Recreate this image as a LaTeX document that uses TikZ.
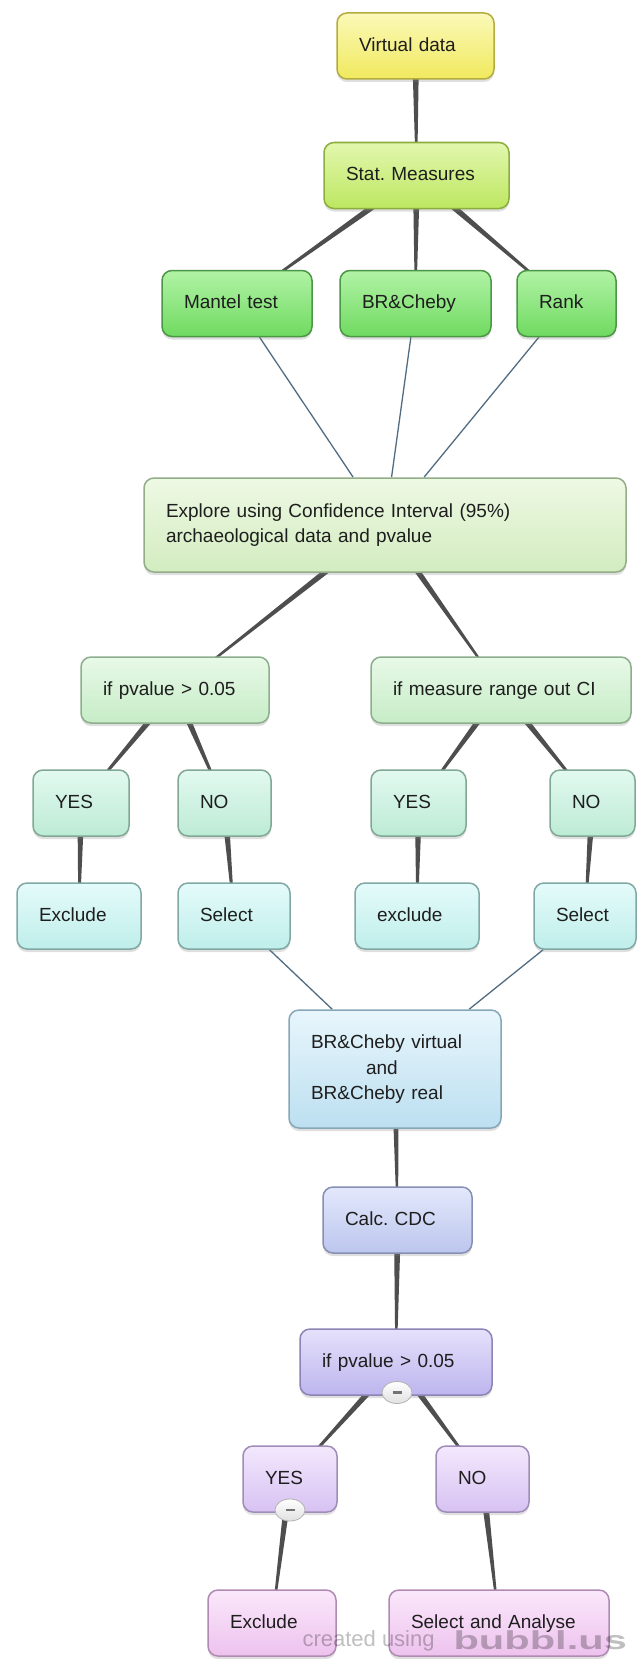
\documentclass[tikz,border=0pt]{standalone}
\usepackage{fontspec}
\setmainfont{Liberation Sans}
\usetikzlibrary{calc,shadows,backgrounds,shapes.geometric}

% bubble colours: gloss top, bottom, outline
\definecolor{yelTop}{HTML}{FBF9B8}
\definecolor{yelBot}{HTML}{F0E95E}
\definecolor{yelLine}{HTML}{B3AC40}
\definecolor{limeTop}{HTML}{E2F7AE}
\definecolor{limeBot}{HTML}{BDE761}
\definecolor{limeLine}{HTML}{8BAE3E}
\definecolor{grnTop}{HTML}{B2F3A6}
\definecolor{grnBot}{HTML}{6FDA60}
\definecolor{grnLine}{HTML}{4C9746}
\definecolor{paleTop}{HTML}{EEF9E4}
\definecolor{paleBot}{HTML}{D3ECC0}
\definecolor{paleLine}{HTML}{93AD89}
\definecolor{testTop}{HTML}{E8F9E8}
\definecolor{testBot}{HTML}{C6ECC6}
\definecolor{testLine}{HTML}{8DAE8D}
\definecolor{mintTop}{HTML}{E2F9EF}
\definecolor{mintBot}{HTML}{BDEBD5}
\definecolor{mintLine}{HTML}{80A894}
\definecolor{cyanTop}{HTML}{E4FBFA}
\definecolor{cyanBot}{HTML}{BFEEEA}
\definecolor{cyanLine}{HTML}{80A8A5}
\definecolor{skyTop}{HTML}{E8F6FC}
\definecolor{skyBot}{HTML}{BCDFF0}
\definecolor{skyLine}{HTML}{86A7B8}
\definecolor{bluTop}{HTML}{E3E8FB}
\definecolor{bluBot}{HTML}{BCC6EE}
\definecolor{bluLine}{HTML}{8690B4}
\definecolor{lavTop}{HTML}{E5E1FB}
\definecolor{lavBot}{HTML}{BDB5EE}
\definecolor{lavLine}{HTML}{8C84B4}
\definecolor{lilTop}{HTML}{F3E8FD}
\definecolor{lilBot}{HTML}{D7C2F2}
\definecolor{lilLine}{HTML}{A08CB8}
\definecolor{pnkTop}{HTML}{FBE8FB}
\definecolor{pnkBot}{HTML}{EDC2EE}
\definecolor{pnkLine}{HTML}{B08AB2}
\definecolor{stemGray}{HTML}{4E4E4E}
\definecolor{linkBlue}{HTML}{526D82}
\definecolor{inkGray}{HTML}{1E1E1E}

% tapered connector: wide at the parent, thin at the child
\newcommand\branch[2]{%
  \fill[stemGray] ($(#1)!3.6pt!90:(#2)$) -- ($(#1)!3.6pt!-90:(#2)$)
    -- ($(#2)!0.6pt!90:(#1)$) -- ($(#2)!0.6pt!-90:(#1)$) -- cycle;}

\tikzset{
  bubble/.style={rectangle, rounded corners=10pt, draw=#1Line, line width=1.5pt,
    top color=#1Top, bottom color=#1Bot, inner xsep=22pt, inner ysep=0pt,
    minimum height=66pt, align=left, text=inkGray,
    font=\fontsize{19}{25.5}\selectfont,
    execute at begin node=\strut, execute at end node=\strut,
    drop shadow={shadow xshift=0pt, shadow yshift=-3pt, opacity=.25}},
  fold/.style={ellipse, draw=black!30, line width=.8pt, top color=white,
    bottom color=black!12, minimum width=30pt, minimum height=22pt, inner sep=0pt},
  link/.style={draw=linkBlue, line width=1.3pt}
}

\begin{document}
\frenchspacing
\begin{tikzpicture}[x=1pt,y=-1pt]
% 637pt x 1659pt page, y runs downwards
\useasboundingbox (0,0) rectangle (637,1659);

% measures
\node[bubble=yel, text width=113pt] (virtual) at (415.5,46) {Virtual data};
\node[bubble=lime, text width=141pt] (stat) at (416.5,175.5) {Stat. Measures};
\node[bubble=grn, text width=106pt] (mantel) at (237,303.5) {Mantel test};
\node[bubble=grn, text width=107pt] (brcheby) at (415.5,303.5) {BR\&Cheby};
\node[bubble=grn, text width=55pt] (rank) at (566.5,303.5) {Rank};
\node[bubble=pale, text width=438pt, minimum height=94pt] (explore) at (385,525)
  {Explore using Confidence Interval (95\%)\\archaeological data and pvalue};

% first round of tests
\node[bubble=test, text width=144pt] (ifp) at (175,690) {if pvalue > 0.05};
\node[bubble=test, text width=216pt] (ifm) at (501,690) {if measure range out CI};
\node[bubble=mint, text width=52pt] (yesP) at (81,803) {YES};
\node[bubble=mint, text width=49pt] (noP) at (224.5,803) {NO};
\node[bubble=mint, text width=51pt] (yesM) at (418.5,803) {YES};
\node[bubble=mint, text width=41pt] (noM) at (592.5,803) {NO};
\node[bubble=cyan, text width=80pt] (exclP) at (79,916) {Exclude};
\node[bubble=cyan, text width=68pt] (selP) at (234,916) {Select};
\node[bubble=cyan, text width=80pt] (exclM) at (417,916) {exclude};
\node[bubble=cyan, text width=58pt] (selM) at (585,916) {Select};

% CDC stage
\node[bubble=sky, text width=168pt, minimum height=118pt] (pair) at (395,1069)
  {BR\&Cheby virtual\\\hspace*{55pt}and\\BR\&Cheby real};
\node[bubble=blu, text width=105pt] (calc) at (397.5,1220) {Calc. CDC};
\node[bubble=lav, text width=148pt] (ifc) at (396,1362) {if pvalue > 0.05};
\node[bubble=lil, text width=50pt] (yesC) at (290,1479) {YES};
\node[bubble=lil, text width=49pt] (noC) at (482.5,1479) {NO};
\node[bubble=pnk, text width=84pt] (exclC) at (272,1623) {Exclude};
\node[bubble=pnk, text width=176pt] (sa) at (499,1623) {Select and Analyse};

% collapse buttons
\node[fold] (foldIfc) at (397,1392.5) {\color{black!55}\rule{9pt}{2.6pt}};
\node[fold] (foldYes) at (290,1510) {\color{black!55}\rule{9pt}{2.6pt}};

\begin{scope}[on background layer]
\fill[white] (0,0) rectangle (637,1659);
\branch{virtual}{stat}
\branch{stat}{mantel}
\branch{stat}{brcheby}
\branch{stat}{rank}
\draw[link] (mantel) -- (explore);
\draw[link] (brcheby) -- (explore);
\draw[link] (rank) -- (explore);
\branch{explore}{ifp}
\branch{explore}{ifm}
\branch{ifp}{yesP}
\branch{ifp}{noP}
\branch{ifm}{yesM}
\branch{ifm}{noM}
\branch{yesP}{exclP}
\branch{noP}{selP}
\branch{yesM}{exclM}
\branch{noM}{selM}
\draw[link] (selP) -- (pair);
\draw[link] (selM) -- (pair);
\branch{pair}{calc}
\branch{calc}{ifc}
\branch{ifc}{yesC}
\branch{ifc}{noC}
\branch{yesC}{exclC}
\branch{noC}{sa}
\end{scope}

% watermark
\node[anchor=west, text=black, text opacity=.25, font=\fontsize{22}{22}\selectfont]
  (credit) at (299,1641) {created using};
\node[anchor=west, text=black, text opacity=.25, font=\bfseries\fontsize{26}{26}\selectfont]
  (logo) at (450,1640) {\scalebox{1.6}[1]{bubbl.us}};
\end{tikzpicture}
\end{document}
